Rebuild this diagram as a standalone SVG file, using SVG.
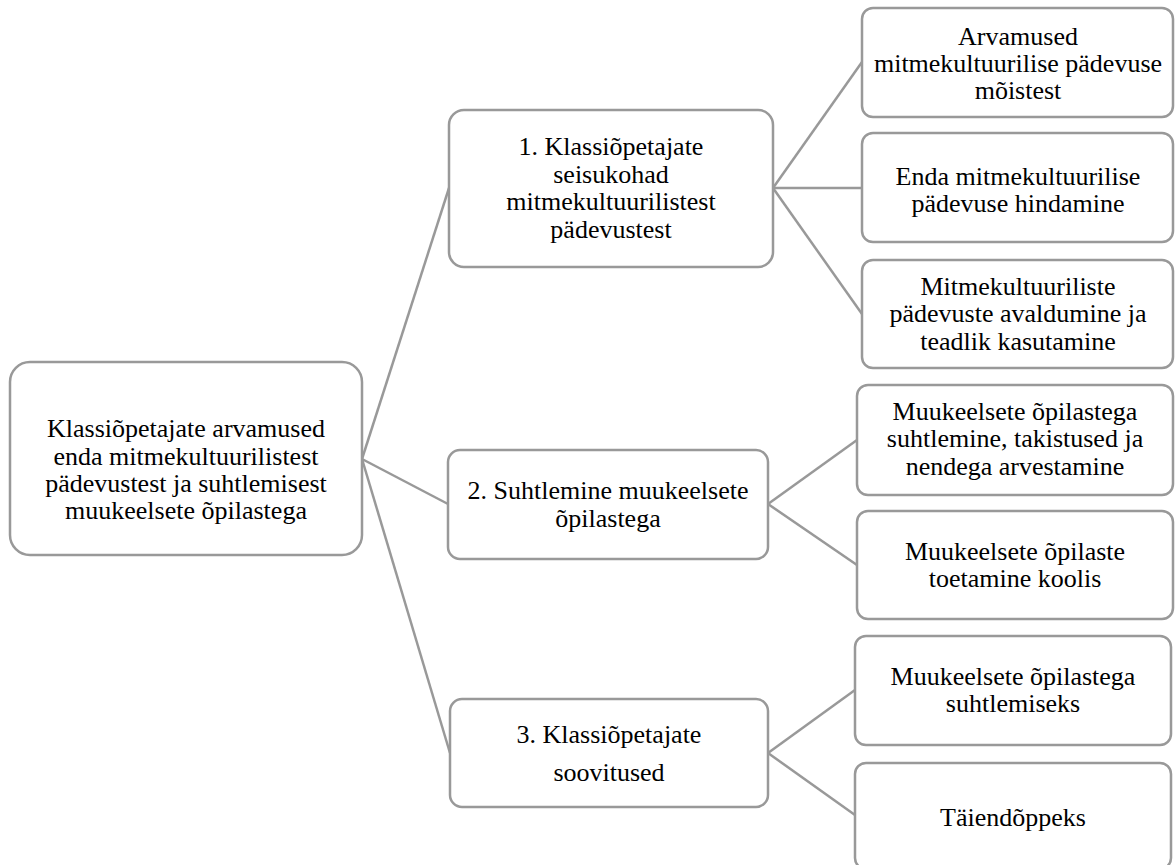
<svg xmlns="http://www.w3.org/2000/svg" width="1175" height="865" viewBox="0 0 1175 865">
<style>
.box{fill:#ffffff;stroke:#999999;stroke-width:2.5}
.conn{stroke:#999999;stroke-width:2.5;fill:none}
text{font-family:'Liberation Serif','Times New Roman',serif;font-size:26px;fill:#000000;text-anchor:middle}
</style>
<rect width="1175" height="865" fill="#ffffff"/>
<g id="connectors">
<line class="conn" x1="362" y1="459" x2="449" y2="188"/>
<line class="conn" x1="362" y1="459" x2="448" y2="504"/>
<line class="conn" x1="362" y1="459" x2="450" y2="753"/>
<line class="conn" x1="773" y1="188" x2="862" y2="62"/>
<line class="conn" x1="773" y1="188" x2="862" y2="188"/>
<line class="conn" x1="773" y1="188" x2="862" y2="314"/>
<line class="conn" x1="768" y1="504" x2="857" y2="440"/>
<line class="conn" x1="768" y1="504" x2="857" y2="565"/>
<line class="conn" x1="768" y1="753" x2="855" y2="690"/>
<line class="conn" x1="768" y1="753" x2="855" y2="815"/>
</g>
<g id="root">
<rect class="box" x="10" y="362" width="352" height="193" rx="20"/>
<text x="186" y="437">Klassiõpetajate arvamused</text>
<text x="186" y="465">enda mitmekultuurilistest</text>
<text x="186" y="492">pädevustest ja suhtlemisest</text>
<text x="186" y="519">muukeelsete õpilastega</text>
</g>
<g id="n1">
<rect class="box" x="449" y="110" width="324" height="157" rx="15"/>
<text x="611" y="155">1. Klassiõpetajate</text>
<text x="611" y="183">seisukohad</text>
<text x="611" y="210">mitmekultuurilistest</text>
<text x="611" y="238">pädevustest</text>
</g>
<g id="n2">
<rect class="box" x="448" y="450" width="320" height="109" rx="12"/>
<text x="608" y="499">2. Suhtlemine muukeelsete</text>
<text x="608" y="527">õpilastega</text>
</g>
<g id="n3">
<rect class="box" x="450" y="699" width="318" height="108" rx="12"/>
<text x="609" y="743">3. Klassiõpetajate</text>
<text x="609" y="781">soovitused</text>
</g>
<g id="a">
<rect class="box" x="862" y="8" width="311" height="109" rx="11"/>
<text x="1018" y="45">Arvamused</text>
<text x="1018" y="72">mitmekultuurilise pädevuse</text>
<text x="1018" y="99">mõistest</text>
</g>
<g id="b">
<rect class="box" x="862" y="133" width="311" height="109" rx="11"/>
<text x="1018" y="185">Enda mitmekultuurilise</text>
<text x="1018" y="212">pädevuse hindamine</text>
</g>
<g id="c">
<rect class="box" x="862" y="260" width="311" height="108" rx="11"/>
<text x="1018" y="295">Mitmekultuuriliste</text>
<text x="1018" y="322">pädevuste avaldumine ja</text>
<text x="1018" y="350">teadlik kasutamine</text>
</g>
<g id="d">
<rect class="box" x="857" y="385" width="316" height="110" rx="11"/>
<text x="1015" y="420">Muukeelsete õpilastega</text>
<text x="1015" y="447">suhtlemine, takistused ja</text>
<text x="1015" y="475">nendega arvestamine</text>
</g>
<g id="e">
<rect class="box" x="857" y="511" width="316" height="108" rx="11"/>
<text x="1015" y="560">Muukeelsete õpilaste</text>
<text x="1015" y="587">toetamine koolis</text>
</g>
<g id="f">
<rect class="box" x="855" y="636" width="316" height="109" rx="11"/>
<text x="1013" y="685">Muukeelsete õpilastega</text>
<text x="1013" y="712">suhtlemiseks</text>
</g>
<g id="g">
<rect class="box" x="855" y="763" width="316" height="106" rx="11"/>
<text x="1013" y="826">Täiendõppeks</text>
</g>
</svg>
